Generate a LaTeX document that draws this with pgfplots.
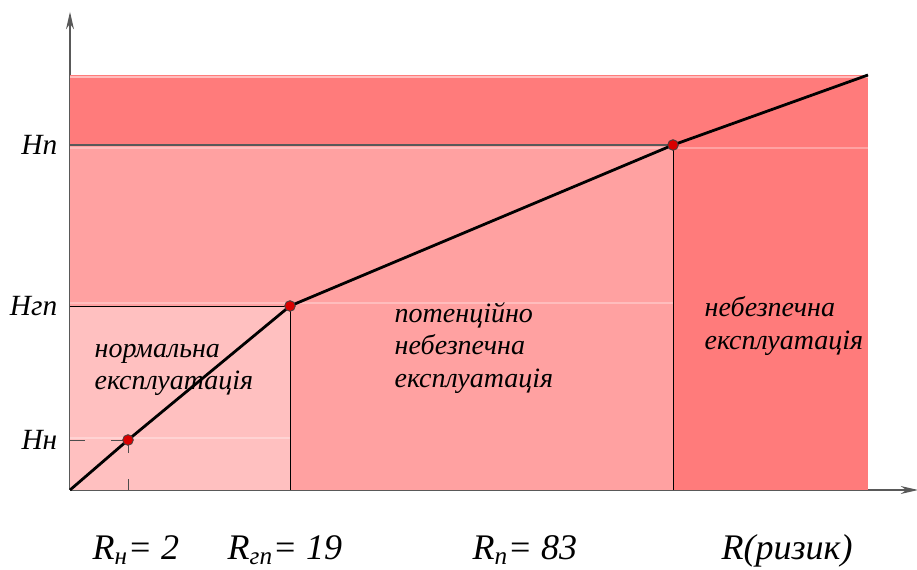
\documentclass[border=0pt]{standalone}
\usepackage{pgfplots}
\pgfplotsset{compat=1.18}
\usetikzlibrary{arrows.meta}
\usepackage{fontspec}
\setmainfont{Liberation Serif}
\definecolor{cdark}{RGB}{255,123,123}
\definecolor{cmid}{RGB}{255,161,161}
\definecolor{clight}{RGB}{255,192,192}
\begin{document}
\begin{tikzpicture}
\path[use as bounding box] (0,0) rectangle (687.75pt,427.5pt);
\begin{axis}[
  x=0.75pt, y=0.75pt,
  anchor=origin, at={(52.5pt,60pt)},
  xmin=0, xmax=848, ymin=0, ymax=478,
  axis lines=left,
  axis line style={-{Stealth[length=13pt,width=6pt]}, black!65, line width=0.8pt},
  xtick=\empty,
  ytick={50,184,345},
  yticklabels={\itshape Нн, \itshape Нгп, \itshape Нп},
  yticklabel style={font=\fontsize{22}{24}\selectfont, xshift=-6pt},
  major tick length=0pt,
  clip=false,
]
% regions
\addplot[fill=cdark, draw=none] coordinates {(0,345) (798,345) (798,415) (0,415)} -- cycle;
\addplot[fill=cdark, draw=none] coordinates {(603,0) (798,0) (798,345) (603,345)} -- cycle;
\addplot[fill=cmid, draw=none] coordinates {(0,184) (603,184) (603,345) (0,345)} -- cycle;
\addplot[fill=cmid, draw=none] coordinates {(220,0) (603,0) (603,184) (220,184)} -- cycle;
\addplot[fill=clight, draw=none] coordinates {(0,0) (220,0) (220,184) (0,184)} -- cycle;
% faint light strips
\addplot[white, opacity=0.3, line width=2pt] coordinates {(0,342) (798,342)};
\addplot[white, opacity=0.3, line width=2pt] coordinates {(0,187) (603,187)};
\addplot[white, opacity=0.3, line width=2pt] coordinates {(0,52) (220,52)};
\addplot[white, opacity=0.5, line width=1pt] coordinates {(0,413) (798,413)};
% guide lines
\addplot[black!65, line width=1.1pt] coordinates {(0,345) (603,345)};
\addplot[black, line width=0.6pt] coordinates {(603,0) (603,345)};
\addplot[black, line width=0.6pt] coordinates {(0,184) (220,184)};
\addplot[black, line width=0.6pt] coordinates {(220,0) (220,184)};
\addplot[black!70, line width=0.7pt, dash pattern=on 11pt off 20pt] coordinates {(0,50) (58,50)};
\addplot[black!70, line width=0.7pt, dash pattern=on 8pt off 20pt] coordinates {(58,0) (58,50)};
% main line
\addplot[black, line width=2.1pt] coordinates {(0,0) (58,50) (220,184) (603,345) (798,415)};
\addplot[only marks, mark=*, mark size=4pt, mark options={fill=red!85!black, draw=black!75, line width=0.6pt}] coordinates {(58,50) (220,184) (603,345)};
% texts
\node[anchor=west, align=left, font=\fontsize{21}{24.5}\selectfont\itshape] at (axis cs:20,120) {нормальна\\експлуатація};
\node[anchor=west, align=left, font=\fontsize{21}{24.5}\selectfont\itshape] at (axis cs:320,142) {потенційно\\небезпечна\\експлуатація};
\node[anchor=west, align=left, font=\fontsize{21}{24.5}\selectfont\itshape] at (axis cs:630,164) {небезпечна\\експлуатація};
\node[anchor=base west, font=\fontsize{27}{30}\selectfont\itshape] at (axis cs:18,-70) {R\textsubscript{н}= 2};
\node[anchor=base west, font=\fontsize{27}{30}\selectfont\itshape] at (axis cs:153,-70) {R\textsubscript{гп}= 19};
\node[anchor=base west, font=\fontsize{27}{30}\selectfont\itshape] at (axis cs:398,-70) {R\textsubscript{п}= 83};
\node[anchor=base west, font=\fontsize{27}{30}\selectfont\itshape] at (axis cs:647,-70) {R(ризик)};
\end{axis}
\end{tikzpicture}
\end{document}
